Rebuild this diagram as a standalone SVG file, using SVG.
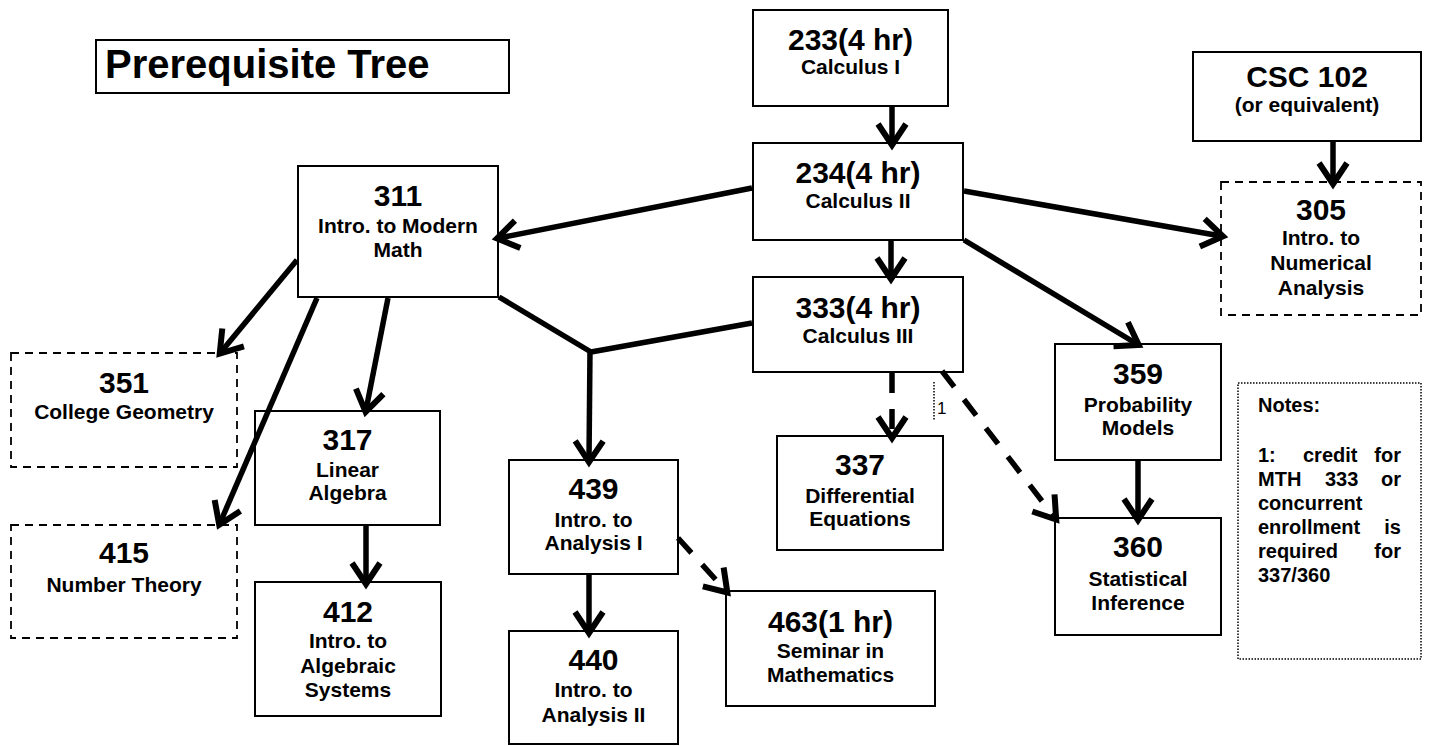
<svg xmlns="http://www.w3.org/2000/svg" width="1432" height="746" viewBox="0 0 1432 746">
<style>
  .box{fill:#fff;stroke:#000;stroke-width:2}
  .dbox{fill:#fff;stroke:#000;stroke-width:1.8;stroke-dasharray:8 6}
  .nbox{fill:#fff;stroke:#000;stroke-width:1.5;stroke-dasharray:1.5 1.5}
  .num{font-family:"Liberation Sans",Arial,sans-serif;font-weight:bold;font-size:30px;text-anchor:middle;fill:#000}
  .sub{font-family:"Liberation Sans",Arial,sans-serif;font-weight:bold;font-size:21px;text-anchor:middle;fill:#000}
  .note{font-family:"Liberation Sans",Arial,sans-serif;font-weight:bold;font-size:20px;fill:#000}
  .title{font-family:"Liberation Sans",Arial,sans-serif;font-weight:bold;font-size:40px;fill:#000}
  .c{fill:none;stroke:#000;stroke-width:5.5}
  .a{marker-end:url(#ah)}
  .dash{stroke-dasharray:20 16}
</style>
<defs>
  <marker id="ah" markerUnits="userSpaceOnUse" markerWidth="40" markerHeight="40" viewBox="-30 -20 40 40" refX="-2" refY="0" orient="auto" overflow="visible">
    <path d="M-21,-14 L0,0 L-21,14" fill="none" stroke="#000" stroke-width="6" stroke-linejoin="miter"/>
  </marker>
</defs>
<rect width="1432" height="746" fill="#fff"/>

<g id="title">
  <rect class="box" x="96" y="40" width="413" height="53" stroke-width="1.5"/>
  <text class="title" x="105" y="78">Prerequisite Tree</text>
</g>

<g id="n233">
  <rect class="box" x="753" y="10" width="195" height="96"/>
  <text class="num" x="850.5" y="50">233(4 hr)</text>
  <text class="sub" x="850.5" y="74">Calculus I</text>
</g>
<g id="n234">
  <rect class="box" x="753" y="143" width="210" height="97"/>
  <text class="num" x="858" y="183">234(4 hr)</text>
  <text class="sub" x="858" y="208">Calculus II</text>
</g>
<g id="n333">
  <rect class="box" x="753" y="277" width="210" height="95"/>
  <text class="num" x="858" y="318">333(4 hr)</text>
  <text class="sub" x="858" y="343">Calculus III</text>
</g>
<g id="ncsc102">
  <rect class="box" x="1193" y="52" width="228" height="89"/>
  <text class="num" x="1307" y="87">CSC 102</text>
  <text class="sub" x="1307" y="112">(or equivalent)</text>
</g>
<g id="n305">
  <rect class="dbox" x="1221" y="182" width="200" height="133"/>
  <text class="num" x="1321" y="220">305</text>
  <text class="sub" x="1321" y="245">Intro. to</text>
  <text class="sub" x="1321" y="270">Numerical</text>
  <text class="sub" x="1321" y="295">Analysis</text>
</g>
<g id="n311">
  <rect class="box" x="298" y="166" width="200" height="131"/>
  <text class="num" x="398" y="206">311</text>
  <text class="sub" x="398" y="233">Intro. to Modern</text>
  <text class="sub" x="398" y="257">Math</text>
</g>
<g id="n351">
  <rect class="dbox" x="11" y="353" width="226" height="114"/>
  <text class="num" x="124" y="393">351</text>
  <text class="sub" x="124" y="419">College Geometry</text>
</g>
<g id="n415">
  <rect class="dbox" x="11" y="525" width="226" height="113"/>
  <text class="num" x="124" y="563">415</text>
  <text class="sub" x="124" y="592">Number Theory</text>
</g>
<g id="n317">
  <rect class="box" x="255" y="411" width="185" height="114"/>
  <text class="num" x="347.5" y="450">317</text>
  <text class="sub" x="347.5" y="477">Linear</text>
  <text class="sub" x="347.5" y="500">Algebra</text>
</g>
<g id="n412">
  <rect class="box" x="255" y="582" width="186" height="134"/>
  <text class="num" x="348" y="622">412</text>
  <text class="sub" x="348" y="648">Intro. to</text>
  <text class="sub" x="348" y="673">Algebraic</text>
  <text class="sub" x="348" y="697">Systems</text>
</g>
<g id="n439">
  <rect class="box" x="509" y="460" width="169" height="114"/>
  <text class="num" x="593.5" y="499">439</text>
  <text class="sub" x="593.5" y="527">Intro. to</text>
  <text class="sub" x="593.5" y="550">Analysis I</text>
</g>
<g id="n440">
  <rect class="box" x="509" y="631" width="169" height="113"/>
  <text class="num" x="593.5" y="670">440</text>
  <text class="sub" x="593.5" y="697">Intro. to</text>
  <text class="sub" x="593.5" y="722">Analysis II</text>
</g>
<g id="n463">
  <rect class="box" x="726" y="591" width="209" height="115"/>
  <text class="num" x="830.5" y="632">463(1 hr)</text>
  <text class="sub" x="830.5" y="658">Seminar in</text>
  <text class="sub" x="830.5" y="682">Mathematics</text>
</g>
<g id="n337">
  <rect class="box" x="777" y="436" width="166" height="114"/>
  <text class="num" x="860" y="475">337</text>
  <text class="sub" x="860" y="503">Differential</text>
  <text class="sub" x="860" y="526">Equations</text>
</g>
<g id="n359">
  <rect class="box" x="1055" y="344" width="166" height="116"/>
  <text class="num" x="1138" y="384">359</text>
  <text class="sub" x="1138" y="412">Probability</text>
  <text class="sub" x="1138" y="435">Models</text>
</g>
<g id="n360">
  <rect class="box" x="1055" y="518" width="166" height="117"/>
  <text class="num" x="1138" y="557">360</text>
  <text class="sub" x="1138" y="586">Statistical</text>
  <text class="sub" x="1138" y="610">Inference</text>
</g>
<g id="notes">
  <rect class="nbox" x="1238" y="383" width="183" height="276"/>
  <text class="note" x="1258" y="412">Notes:</text>
  <text class="note" x="1258" y="462">1:</text>
  <text class="note" x="1303" y="462">credit</text>
  <text class="note" x="1401" y="462" text-anchor="end">for</text>
  <text class="note" x="1258" y="486">MTH</text>
  <text class="note" x="1325" y="486">333</text>
  <text class="note" x="1401" y="486" text-anchor="end">or</text>
  <text class="note" x="1258" y="510">concurrent</text>
  <text class="note" x="1258" y="534">enrollment</text>
  <text class="note" x="1401" y="534" text-anchor="end">is</text>
  <text class="note" x="1258" y="558">required</text>
  <text class="note" x="1401" y="558" text-anchor="end">for</text>
  <text class="note" x="1258" y="582">337/360</text>
</g>

<g id="connectors">
  <line class="c a" x1="892" y1="107" x2="892" y2="143"/>
  <line class="c a" x1="891" y1="241" x2="891" y2="277"/>
  <line class="c a" x1="1333" y1="142" x2="1333" y2="182"/>
  <line class="c a" x1="964" y1="191" x2="1221" y2="236"/>
  <line class="c a" x1="752" y1="188" x2="499" y2="238"/>
  <line class="c a" x1="297" y1="260" x2="221" y2="352"/>
  <line class="c a" x1="317" y1="298" x2="220" y2="523"/>
  <line class="c a" x1="388" y1="298" x2="366" y2="410"/>
  <line class="c a" x1="366" y1="526" x2="366" y2="582"/>
  <polyline class="c" points="499,297 591,352 752,323" stroke-linejoin="round"/>
  <line class="c a" x1="590" y1="350" x2="589" y2="460"/>
  <line class="c a" x1="589" y1="575" x2="589" y2="631"/>
  <line class="c a dash" x1="678" y1="538" x2="726" y2="591"/>
  <line class="c a dash" x1="892" y1="373" x2="892" y2="436"/>
  <line class="c a dash" x1="942" y1="371" x2="1055" y2="518"/>
  <line class="c a" x1="964" y1="240" x2="1137" y2="344"/>
  <line class="c a" x1="1138" y1="461" x2="1138" y2="518"/>
  <line x1="934" y1="382" x2="934" y2="420" stroke="#000" stroke-width="1.5" stroke-dasharray="1.5 1.5"/>
  <text x="937" y="414" font-family="'Liberation Sans',Arial,sans-serif" font-size="17" fill="#000">1</text>
</g>
</svg>
